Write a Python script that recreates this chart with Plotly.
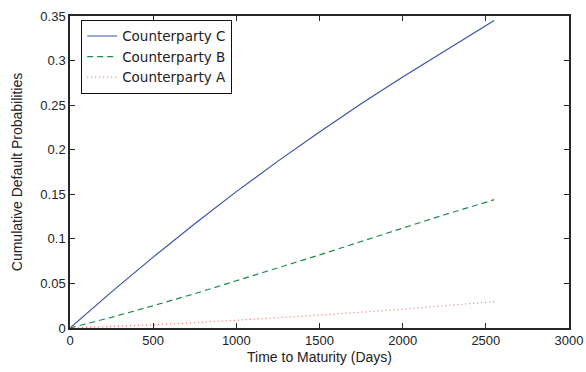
import plotly.graph_objects as go

days = [0, 250, 500, 750, 1000, 1250, 1500, 1750, 2000, 2250, 2500, 2550]
cp_c = [0, 0.0405, 0.0795, 0.1170, 0.1530, 0.1872, 0.2200, 0.2515, 0.2815, 0.3105, 0.3395, 0.3450]
cp_b = [0, 0.0120, 0.0250, 0.0385, 0.0530, 0.0672, 0.0820, 0.0970, 0.1120, 0.1270, 0.1410, 0.1440]
cp_a = [0, 0.0015, 0.0035, 0.0060, 0.0085, 0.0115, 0.0145, 0.0175, 0.0210, 0.0250, 0.0290, 0.0295]

x_ticks = [0, 500, 1000, 1500, 2000, 2500, 3000]
y_ticks = [0, 0.05, 0.1, 0.15, 0.2, 0.25, 0.3, 0.35]
y_labels = ["0", "0.05", "0.1", "0.15", "0.2", "0.25", "0.3", "0.35"]

fig = go.Figure()
fig.add_trace(go.Scatter(x=days, y=cp_c, mode="lines", name="Counterparty C",
                         line=dict(color="#3953AE", width=1.2)))
fig.add_trace(go.Scatter(x=days, y=cp_b, mode="lines", name="Counterparty B",
                         line=dict(color="#1B8A4C", width=1.2, dash="6px,4px")))
fig.add_trace(go.Scatter(x=days, y=cp_a, mode="lines", name="Counterparty A",
                         line=dict(color="#FF6F6F", width=1.2, dash="1px,3px")))

font = "Liberation Sans, Arial, sans-serif"
fig.update_layout(
    width=586, height=372,
    margin=dict(l=69.5, r=17, t=15.7, b=43.7, autoexpand=False),
    paper_bgcolor="white", plot_bgcolor="white",
    font=dict(family=font, size=13, color="#222222"),
    showlegend=True,
    legend=dict(x=0.0224, y=0.988, xanchor="left", yanchor="top",
                bgcolor="white", bordercolor="#111111", borderwidth=1,
                font=dict(size=13.5, family="DejaVu Sans, sans-serif", color="#222222"),
                tracegroupgap=0, itemwidth=30),
    xaxis=dict(range=[0, 3000], tickvals=x_ticks, ticks="inside", ticklen=5,
               tickcolor="#262626", showline=True, linecolor="#262626", linewidth=1.5,
               mirror="ticks", showgrid=False, zeroline=False, automargin=False,
               title=dict(text="Time to Maturity (Days)", standoff=5,
                          font=dict(size=14))),
    yaxis=dict(range=[0, 0.35], tickvals=y_ticks, ticktext=y_labels, ticks="inside",
               ticklen=5, tickcolor="#262626", showline=True, linecolor="#262626",
               linewidth=1.5, mirror="ticks", showgrid=False, zeroline=False,
               automargin=False,
               title=dict(text="Cumulative Default Probabilities", standoff=14,
                          font=dict(size=14))),
)

fig.write_html("out.html", config={"displayModeBar": False},
               post_script="document.body.style.margin='0';")
